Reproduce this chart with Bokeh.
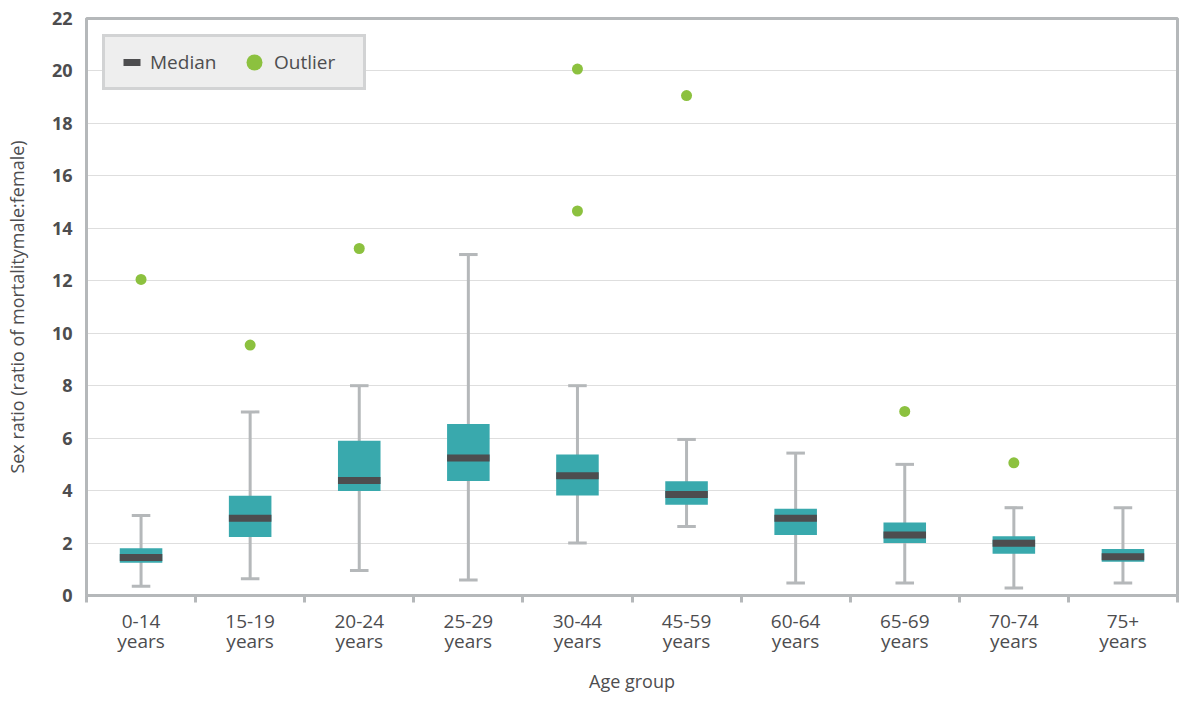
from bokeh.plotting import figure
from bokeh.models import FixedTicker, Legend, LegendItem, Range1d
from bokeh.embed import file_html
from bokeh.resources import INLINE

# ---- data ----
age_groups = ["0-14", "15-19", "20-24", "25-29", "30-44", "45-59", "60-64", "65-69", "70-74", "75+"]
whisker_low = [0.35, 0.64, 0.95, 0.59, 2.0, 2.63, 0.48, 0.48, 0.29, 0.48]
q1 = [1.25, 2.23, 3.98, 4.37, 3.81, 3.46, 2.31, 2.0, 1.59, 1.29]
median = [1.45, 2.95, 4.38, 5.24, 4.57, 3.85, 2.95, 2.31, 1.99, 1.48]
q3 = [1.80, 3.80, 5.90, 6.54, 5.38, 4.36, 3.31, 2.78, 2.26, 1.77]
whisker_high = [3.05, 7.0, 8.0, 13.0, 8.0, 5.95, 5.43, 5.0, 3.35, 3.35]
outliers = [[12.05], [9.55], [13.23], [], [20.07, 14.66], [19.06], [], [7.02], [5.06], []]
y_ticks = [0, 2, 4, 6, 8, 10, 12, 14, 16, 18, 20, 22]

# ---- styling ----
TEAL = "#39a9ad"
DARK = "#4d4d4f"
GREY = "#b5b8ba"
GREEN = "#8cc13f"
FONT = "Open Sans"
BOX_W = 0.39
CAP_W = 0.17

xs = [i + 1 for i in range(len(age_groups))]
labels = {x: f"{g}\nyears" for x, g in zip(xs, age_groups)}

p = figure(width=1179, height=695, output_backend="svg", toolbar_location=None,
           x_range=Range1d(0.5, len(age_groups) + 0.5), y_range=Range1d(0, 22),
           min_border_left=86, min_border_right=2, min_border_top=18, min_border_bottom=100)
p.background_fill_color = "white"
p.border_fill_color = "white"
p.outline_line_color = GREY
p.outline_line_width = 3

# whiskers
p.segment(x0=xs, y0=whisker_low, x1=xs, y1=whisker_high, line_color=GREY, line_width=3)
p.segment(x0=[x - CAP_W / 2 for x in xs], y0=whisker_low, x1=[x + CAP_W / 2 for x in xs], y1=whisker_low,
          line_color=GREY, line_width=3)
p.segment(x0=[x - CAP_W / 2 for x in xs], y0=whisker_high, x1=[x + CAP_W / 2 for x in xs], y1=whisker_high,
          line_color=GREY, line_width=3)
# boxes
p.vbar(x=xs, bottom=q1, top=q3, width=BOX_W, fill_color=TEAL, line_color=None)
# medians
p.segment(x0=[x - BOX_W / 2 for x in xs], y0=median, x1=[x + BOX_W / 2 for x in xs], y1=median,
          line_color=DARK, line_width=7, line_cap="butt")
# outliers
ox = [x for x, vals in zip(xs, outliers) for _ in vals]
oy = [v for vals in outliers for v in vals]
out_r = p.scatter(x=ox, y=oy, size=11, fill_color=GREEN, line_color=None)

# legend helper for median (short bar); NaN data draws nothing in the plot
nan = float("nan")
med_leg = p.line(x=[nan, nan], y=[nan, nan], line_color=DARK, line_width=7, line_dash="0 13 17 10")

legend = Legend(items=[LegendItem(label="Median", renderers=[med_leg]),
                       LegendItem(label="Outlier", renderers=[out_r])],
                orientation="horizontal", location="top_left", margin=16, padding=5, spacing=0,
                glyph_width=40, glyph_height=40, label_standoff=-4, label_width=84,
                border_line_color=GREY, border_line_width=3,
                background_fill_color="#eeeeee", background_fill_alpha=1,
                label_text_font=FONT, label_text_font_size="19px", label_text_color=DARK)
p.add_layout(legend)

# x axis
xa = p.xaxis[0]
xa.ticker = FixedTicker(ticks=xs, minor_ticks=[x - 0.5 for x in xs] + [xs[-1] + 0.5])
xa.major_label_overrides = labels
xa.major_tick_out = 0
xa.major_tick_in = 0
xa.minor_tick_out = 7
xa.minor_tick_in = 0
xa.minor_tick_line_color = GREY
xa.minor_tick_line_width = 3
xa.axis_line_color = GREY
xa.axis_line_width = 3
xa.major_label_standoff = 5
xa.major_label_text_font = FONT
xa.major_label_text_font_size = "19px"
xa.major_label_text_color = DARK
xa.major_label_text_line_height = 0.77
xa.axis_label = "Age group"
xa.axis_label_standoff = 12
xa.axis_label_text_font = FONT
xa.axis_label_text_font_size = "18px"
xa.axis_label_text_font_style = "normal"
xa.axis_label_text_color = DARK

# y axis
ya = p.yaxis[0]
ya.ticker = FixedTicker(ticks=y_ticks)
ya.major_tick_out = 0
ya.major_tick_in = 0
ya.minor_tick_out = 0
ya.minor_tick_in = 0
ya.axis_line_color = GREY
ya.axis_line_width = 3
ya.major_label_standoff = 14
ya.major_label_text_font = FONT
ya.major_label_text_font_size = "18px"
ya.major_label_text_font_style = "bold"
ya.major_label_text_color = DARK
ya.axis_label = "Sex ratio (ratio of mortalitymale:female)"
ya.axis_label_standoff = 20
ya.axis_label_text_font = FONT
ya.axis_label_text_font_size = "18px"
ya.axis_label_text_font_style = "normal"
ya.axis_label_text_color = DARK

# grid
p.xgrid.visible = False
p.ygrid.ticker = FixedTicker(ticks=y_ticks)
p.ygrid.grid_line_color = "#bdbdbd"
p.ygrid.grid_line_dash = "1 1"
p.ygrid.grid_line_width = 1

open("out.html", "w").write(file_html(p, INLINE))
